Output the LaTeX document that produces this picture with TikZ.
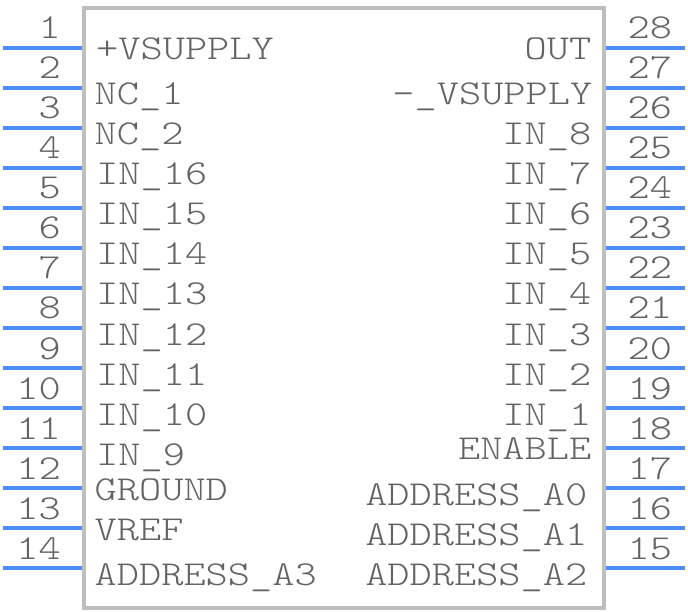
\documentclass[tikz,border=0pt]{standalone}
\definecolor{pinblue}{HTML}{4A90F0}
\definecolor{boxgrey}{HTML}{BEBEBE}
\definecolor{txtgrey}{HTML}{636363}
\newcommand{\lbl}{\fontsize{35}{35}\fontseries{l}\ttfamily\selectfont}
\tikzset{
  x=1pt,y=-1pt,
  body/.style={draw=boxgrey,line width=4pt,fill=white},
  pin/.style={draw=pinblue,line width=3.6pt},
  ltext/.style={inner sep=0pt,text=txtgrey,font=\lbl,xscale=1.208,transform shape,anchor=base west},
  rtext/.style={inner sep=0pt,text=txtgrey,font=\lbl,xscale=1.208,transform shape,anchor=base east}
}
\begin{document}
\begin{tikzpicture}
\useasboundingbox (0,0) rectangle (688,612);
\coordinate (bodyA) at (84,8);
\coordinate (bodyB) at (604,608);
\draw[body] (bodyA) rectangle (bodyB);
% left pins
\foreach \n in {1,...,14}{
  \pgfmathsetmacro{\py}{8+40*\n}
  \pgfmathsetmacro{\by}{\py-9}
  \coordinate (la\n) at (3,\py);
  \coordinate (lb\n) at (82,\py);
  \draw[pin] (la\n) -- (lb\n);
  \node[rtext] (ln\n) at (61,\by) {\n};
}
% right pins
\foreach \n in {15,...,28}{
  \pgfmathsetmacro{\py}{8+40*(29-\n)}
  \pgfmathsetmacro{\by}{\py-9}
  \coordinate (ra\n) at (606,\py);
  \coordinate (rb\n) at (685,\py);
  \draw[pin] (ra\n) -- (rb\n);
  \node[ltext] (rn\n) at (627.5,\by) {\n};
}
% left labels
\node[ltext] (l1) at (96,60) {+VSUPPLY};
\node[ltext] (l2) at (94.5,105) {NC\_1};
\node[ltext] (l3) at (94.5,145) {NC\_2};
\node[ltext] (l4) at (96,185) {IN\_16};
\node[ltext] (l5) at (96,225) {IN\_15};
\node[ltext] (l6) at (96,265) {IN\_14};
\node[ltext] (l7) at (96,305) {IN\_13};
\node[ltext] (l8) at (96,345) {IN\_12};
\node[ltext] (l9) at (96,385) {IN\_11};
\node[ltext] (l10) at (96,425) {IN\_10};
\node[ltext] (l11) at (96,465) {IN\_9};
\node[ltext] (l12) at (94.5,500) {GROUND};
\node[ltext] (l13) at (94.5,540) {VREF};
\node[ltext] (l14) at (94.5,585) {ADDRESS\_A3};
% right labels
\node[rtext] (r28) at (591.5,60) {OUT};
\node[rtext] (r27) at (592.5,105) {-\_VSUPPLY};
\node[rtext] (r26) at (591.5,145) {IN\_8};
\node[rtext] (r25) at (591.5,185) {IN\_7};
\node[rtext] (r24) at (591.5,225) {IN\_6};
\node[rtext] (r23) at (591.5,265) {IN\_5};
\node[rtext] (r22) at (591.5,305) {IN\_4};
\node[rtext] (r21) at (591.5,345) {IN\_3};
\node[rtext] (r20) at (591.5,385) {IN\_2};
\node[rtext] (r19) at (591.5,425) {IN\_1};
\node[rtext] (r18) at (591.5,459) {ENABLE};
\node[rtext] (r17) at (587.5,505) {ADDRESS\_A0};
\node[rtext] (r16) at (587.5,545) {ADDRESS\_A1};
\node[rtext] (r15) at (587.5,585) {ADDRESS\_A2};
\end{tikzpicture}
\end{document}
